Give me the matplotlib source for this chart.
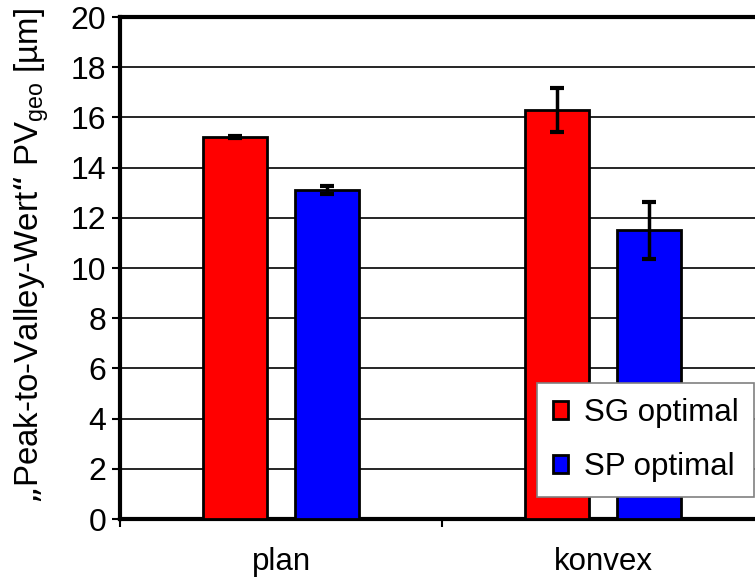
import matplotlib.pyplot as plt
import numpy as np

plt.rcParams['font.family'] = ['Liberation Sans', 'DejaVu Sans']

### Data ###
categories = ['plan', 'konvex']
sg_values = [15.22, 16.3]
sg_errors = [0.05, 0.87]
sp_values = [13.1, 11.5]
sp_errors = [0.15, 1.15]
series_labels = ['SG optimal', 'SP optimal']

### Plotting ###
fig = plt.figure(figsize=(7.55, 5.79), dpi=100)
ax = fig.add_axes([0.159, 0.1036, 0.853, 0.867])

x = np.arange(len(categories))
w = 0.2
off = 0.143
err_kw = dict(ecolor='black', elinewidth=2.5, capsize=5, capthick=3)
ax.bar(x - off, sg_values, w, yerr=sg_errors, color='#ff0000', edgecolor='black',
       linewidth=2, label=series_labels[0], error_kw=err_kw, zorder=3)
ax.bar(x + off, sp_values, w, yerr=sp_errors, color='#0000ff', edgecolor='black',
       linewidth=2, label=series_labels[1], error_kw=err_kw, zorder=3)

ax.set_xlim(-0.5, 1.5)
ax.set_ylim(0, 20)
ax.set_yticks(np.arange(0, 21, 2))
ax.set_xticks(x)
ax.set_xticklabels(categories, fontsize=22.5)
ax.set_xticks([-0.5, 0.5, 1.5], minor=True)
ax.tick_params(axis='x', which='major', length=0, pad=20)
ax.tick_params(axis='x', which='minor', length=6, width=1.5, direction='out')
ax.tick_params(axis='y', labelsize=23, length=6, width=1.5, pad=4)

ax.grid(axis='y', color='black', linewidth=1.2, zorder=0)
ax.set_axisbelow(True)
for s in ax.spines.values():
    s.set_linewidth(3)

ax.set_ylabel('„Peak-to-Valley-Wert“ PV$_{\\mathregular{geo}}$ [µm]', fontsize=23.8, labelpad=14)
ax.yaxis.label.set_y(0.524)

leg = ax.legend(loc='lower right', bbox_to_anchor=(0.985, 0.043), fontsize=22.5,
                frameon=True, fancybox=False, edgecolor='#808080', framealpha=1,
                handlelength=0.5, handleheight=0.5, handletextpad=0.5,
                borderpad=0.5, labelspacing=0.75, borderaxespad=0)
leg.get_frame().set_linewidth(1.2)

plt.savefig('out.png', dpi=100)
